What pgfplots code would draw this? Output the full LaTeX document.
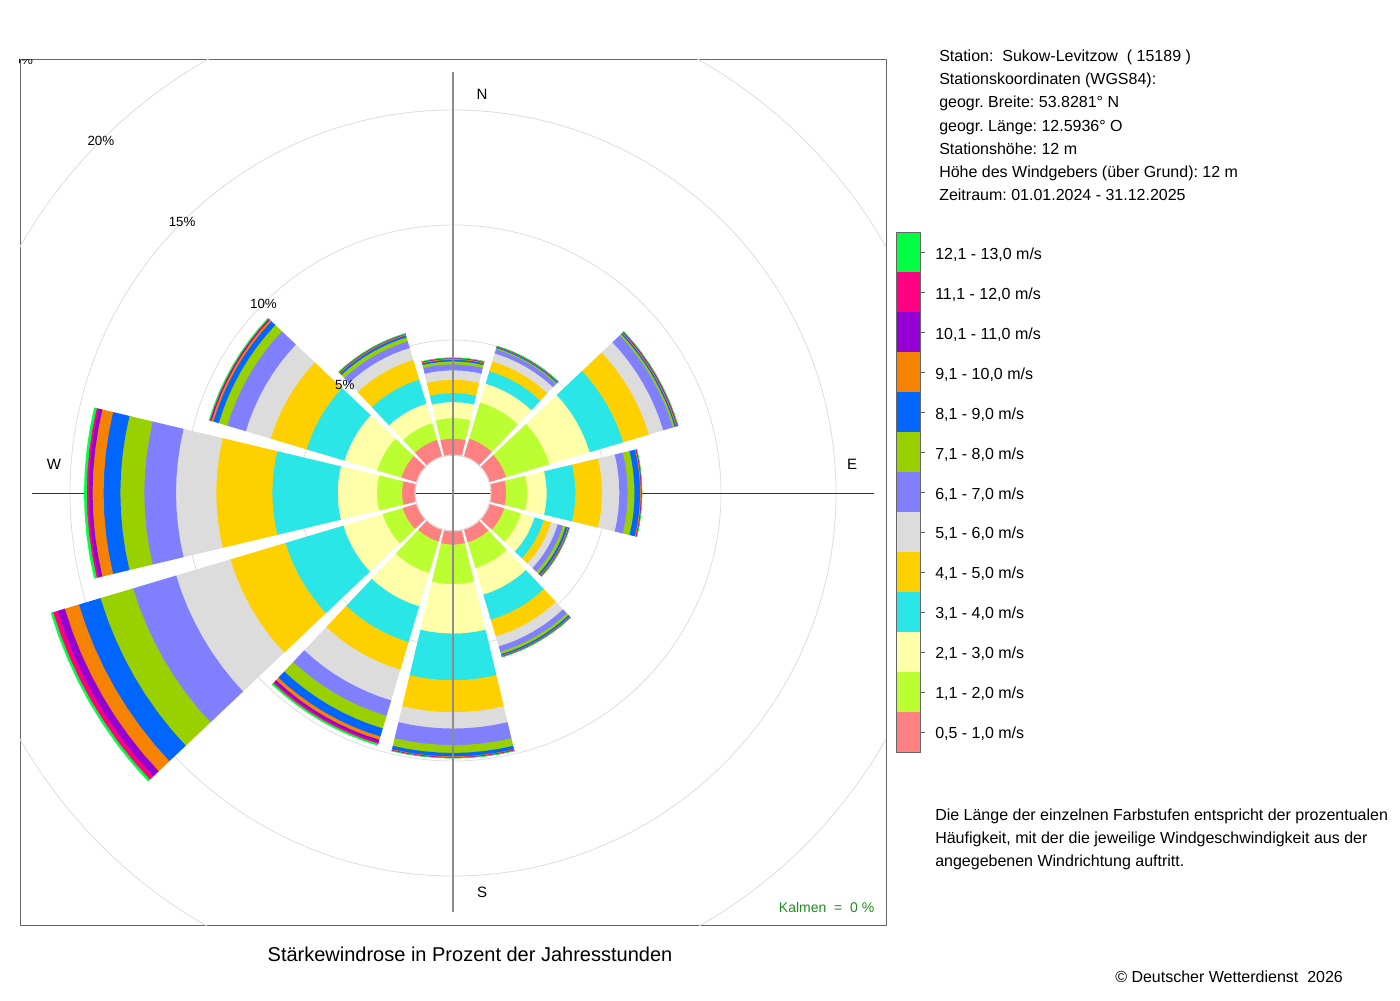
\documentclass[border=0pt]{standalone}
\usepackage{pgfplots}
\pgfplotsset{compat=1.18}
\usepackage{fontspec}
\setmainfont{Liberation Sans}
\frenchspacing
\definecolor{wc1}{HTML}{FF8080}
\definecolor{wc2}{HTML}{BBFF33}
\definecolor{wc3}{HTML}{FFFFAA}
\definecolor{wc4}{HTML}{2AE6E6}
\definecolor{wc5}{HTML}{FFD000}
\definecolor{wc6}{HTML}{DCDCDC}
\definecolor{wc7}{HTML}{8080FF}
\definecolor{wc8}{HTML}{99D100}
\definecolor{wc9}{HTML}{0066FF}
\definecolor{wc10}{HTML}{F58200}
\definecolor{wc11}{HTML}{9400D3}
\definecolor{wc12}{HTML}{FF0080}
\definecolor{wc13}{HTML}{00FF40}
\definecolor{gridgray}{HTML}{DDDDDD}
\definecolor{kalmen}{HTML}{228B22}

\def\Rz{1.6522}
\def\hw{13.4}

% #1 compass direction (deg), #2 the 13 class frequencies (percent) from 0,5-1,0 m/s outwards
\newcommand\windsector[2]{%
  \pgfmathsetmacro\aA{90-#1+\hw}%
  \pgfmathsetmacro\aB{90-#1+0.75*\hw}%
  \pgfmathsetmacro\aC{90-#1+0.5*\hw}%
  \pgfmathsetmacro\aD{90-#1+0.25*\hw}%
  \pgfmathsetmacro\aE{90-#1}%
  \pgfmathsetmacro\aF{90-#1-0.25*\hw}%
  \pgfmathsetmacro\aG{90-#1-0.5*\hw}%
  \pgfmathsetmacro\aH{90-#1-0.75*\hw}%
  \pgfmathsetmacro\aI{90-#1-\hw}%
  \def\rcum{0}%
  \def\bandno{0}%
  \pgfplotsforeachungrouped \bandval in {#2}{%
    \pgfmathsetmacro\rin{\Rz+\rcum-0.02}%
    \pgfmathsetmacro\rcum{\rcum+\bandval}%
    \pgfmathsetmacro\rout{\Rz+\rcum}%
    \pgfmathtruncatemacro\bandno{\bandno+1}%
    \edef\mybandplot{\noexpand\addplot[fill=wc\bandno,draw=none,data cs=polar,forget plot] coordinates {(\aA,\rout)(\aB,\rout)(\aC,\rout)(\aD,\rout)(\aE,\rout)(\aF,\rout)(\aG,\rout)(\aH,\rout)(\aI,\rout)(\aI,\rin)(\aH,\rin)(\aG,\rin)(\aF,\rin)(\aE,\rin)(\aD,\rin)(\aC,\rin)(\aB,\rin)(\aA,\rin)};}%
    \mybandplot
  }%
}

\begin{document}
\begin{tikzpicture}
\begin{scope}[x=0.75pt,y=-0.75pt]
\path (0,0) rectangle (1400,1000);
\end{scope}
\begin{axis}[
  at={(15pt,-693.75pt)}, anchor=south west,
  width=649.5pt, height=649.5pt, scale only axis,
  xmin=-18.826, xmax=18.826, ymin=-18.783, ymax=18.870,
  xtick=\empty, ytick=\empty,
  axis line style={black!60, line width=0.6pt},
  clip=true,
]
% grid circles
\draw[gridgray, line width=0.6pt] (axis cs:0,0) circle[radius=6.6522];
\draw[gridgray, line width=0.6pt] (axis cs:0,0) circle[radius=11.6522];
\draw[gridgray, line width=0.6pt] (axis cs:0,0) circle[radius=16.6522];
\draw[gridgray, line width=0.6pt] (axis cs:0,0) circle[radius=21.6522];
\draw[gridgray, line width=0.6pt] (axis cs:0,0) circle[radius=26.6522];
% horizontal cross line (behind the sectors)
\draw[black!80, line width=0.7pt] (axis cs:-18.304,0) -- (axis cs:18.304,0);

\windsector{0}{0.73, 0.89, 0.70, 0.39, 0.58, 0.41, 0.26, 0.13, 0.07, 0.04, 0.02, 0.01, 0.01}
\windsector{30}{0.83, 1.65, 0.85, 0.57, 0.44, 0.36, 0.19, 0.05, 0.04, 0.02, 0.01, 0.01, 0.01}
\windsector{60}{0.78, 1.96, 1.83, 1.52, 1.17, 0.65, 0.44, 0.08, 0.06, 0.04, 0.03, 0.01, 0.01}
\windsector{90}{0.68, 0.91, 0.85, 1.25, 1.16, 0.75, 0.36, 0.30, 0.24, 0.04, 0.02, 0.01, 0.01}
\windsector{120}{0.69, 0.76, 0.62, 0.42, 0.33, 0.30, 0.23, 0.13, 0.09, 0.04, 0.02, 0.01, 0.01}
\windsector{150}{0.61, 1.16, 1.21, 1.14, 0.76, 0.45, 0.24, 0.11, 0.07, 0.03, 0.01, 0.01, 0.01}
\windsector{180}{0.61, 1.72, 2.15, 2.03, 1.39, 0.71, 0.72, 0.34, 0.15, 0.03, 0.02, 0.01, 0.01}
\windsector{210}{0.57, 1.43, 1.51, 1.62, 1.26, 1.39, 0.70, 0.57, 0.37, 0.15, 0.11, 0.07, 0.06}
\windsector{240}{0.65, 0.91, 1.78, 2.63, 2.50, 2.46, 1.95, 1.48, 0.98, 0.64, 0.32, 0.21, 0.09}
\windsector{270}{0.58, 1.09, 1.71, 2.84, 2.44, 1.75, 1.38, 1.04, 0.73, 0.48, 0.16, 0.09, 0.10}
\windsector{300}{0.71, 1.10, 1.48, 1.72, 1.63, 1.13, 0.84, 0.39, 0.24, 0.09, 0.04, 0.03, 0.03}
\windsector{330}{0.78, 0.76, 0.88, 1.09, 0.90, 0.54, 0.30, 0.18, 0.09, 0.04, 0.02, 0.01, 0.01}

% inner circle outline
\draw[gridgray, line width=0.8pt] (axis cs:0,0) circle[radius=1.6522];
% vertical cross line (on top)
\draw[black!45, line width=0.9pt] (axis cs:0,-18.217) -- (axis cs:0,18.304);

% direction labels
\node[font=\fontsize{11.25pt}{13pt}\selectfont] at (axis cs:1.261,17.348) {N};
\node[font=\fontsize{11.25pt}{13pt}\selectfont] at (axis cs:1.261,-17.348) {S};
\node[font=\fontsize{11.25pt}{13pt}\selectfont] at (axis cs:17.348,1.261) {E};
\node[font=\fontsize{11.25pt}{13pt}\selectfont] at (axis cs:-17.348,1.261) {W};
% percent labels
\node[font=\fontsize{10pt}{12pt}\selectfont] at (axis cs:-4.704,4.704) {5\%};
\node[font=\fontsize{10pt}{12pt}\selectfont] at (axis cs:-8.239,8.239) {10\%};
\node[font=\fontsize{10pt}{12pt}\selectfont] at (axis cs:-11.775,11.775) {15\%};
\node[font=\fontsize{10pt}{12pt}\selectfont] at (axis cs:-15.310,15.310) {20\%};
\node[font=\fontsize{10pt}{12pt}\selectfont] at (axis cs:-18.846,18.846) {25\%};
% calms
\node[anchor=east, text=kalmen, font=\fontsize{10.5pt}{12pt}\selectfont] at (axis cs:18.52,-18.04) {Kalmen\ \ =\ \ 0 \%};
\end{axis}

\begin{scope}[x=0.75pt,y=-0.75pt]
% title
\node[anchor=base, inner sep=0, font=\fontsize{15pt}{17pt}\selectfont] at (470,961) {Stärkewindrose in Prozent der Jahresstunden};
% station info
\begin{scope}[every node/.style={anchor=base west, inner sep=0, font=\fontsize{12pt}{14pt}\selectfont}]
\node at (939,61) {Station:\ \ Sukow-Levitzow\ \ ( 15189 )};
\node at (939,84) {Stationskoordinaten (WGS84):};
\node at (939,107) {geogr. Breite: 53.8281° N};
\node at (939,131) {geogr. Länge: 12.5936° O};
\node at (939,154) {Stationshöhe: 12 m};
\node at (939,177) {Höhe des Windgebers (über Grund): 12 m};
\node at (939,200) {Zeitraum: 01.01.2024 - 31.12.2025};
% legend labels
\node at (935,259) {12,1 - 13,0 m/s};
\node at (935,299) {11,1 - 12,0 m/s};
\node at (935,339) {10,1 - 11,0 m/s};
\node at (935,379) {9,1 - 10,0 m/s};
\node at (935,419) {8,1 - 9,0 m/s};
\node at (935,459) {7,1 - 8,0 m/s};
\node at (935,499) {6,1 - 7,0 m/s};
\node at (935,538) {5,1 - 6,0 m/s};
\node at (935,578) {4,1 - 5,0 m/s};
\node at (935,618) {3,1 - 4,0 m/s};
\node at (935,658) {2,1 - 3,0 m/s};
\node at (935,698) {1,1 - 2,0 m/s};
\node at (935,738) {0,5 - 1,0 m/s};
% description
\node at (935,820) {Die Länge der einzelnen Farbstufen entspricht der prozentualen};
\node at (935,843) {Häufigkeit, mit der die jeweilige Windgeschwindigkeit aus der};
\node at (935,866) {angegebenen Windrichtung auftritt.};
\node at (1115,982) {© Deutscher Wetterdienst\ \ 2026};
\end{scope}
% legend colour boxes
\fill[wc13] (896,232) rectangle (920,272);
\fill[wc12] (896,272) rectangle (920,312);
\fill[wc11] (896,312) rectangle (920,352);
\fill[wc10] (896,352) rectangle (920,392);
\fill[wc9] (896,392) rectangle (920,432);
\fill[wc8] (896,432) rectangle (920,472);
\fill[wc7] (896,472) rectangle (920,512);
\fill[wc6] (896,512) rectangle (920,552);
\fill[wc5] (896,552) rectangle (920,592);
\fill[wc4] (896,592) rectangle (920,632);
\fill[wc3] (896,632) rectangle (920,672);
\fill[wc2] (896,672) rectangle (920,712);
\fill[wc1] (896,712) rectangle (920,752);
\draw[black!60, line width=0.6pt] (896,232) rectangle (920,752);
\foreach \yy in {252,292,332,372,412,452,492,532,572,612,652,692,732}{
  \draw[black!60, line width=0.6pt] (920,\yy) -- (925,\yy);
}
\end{scope}
\end{tikzpicture}
\end{document}
